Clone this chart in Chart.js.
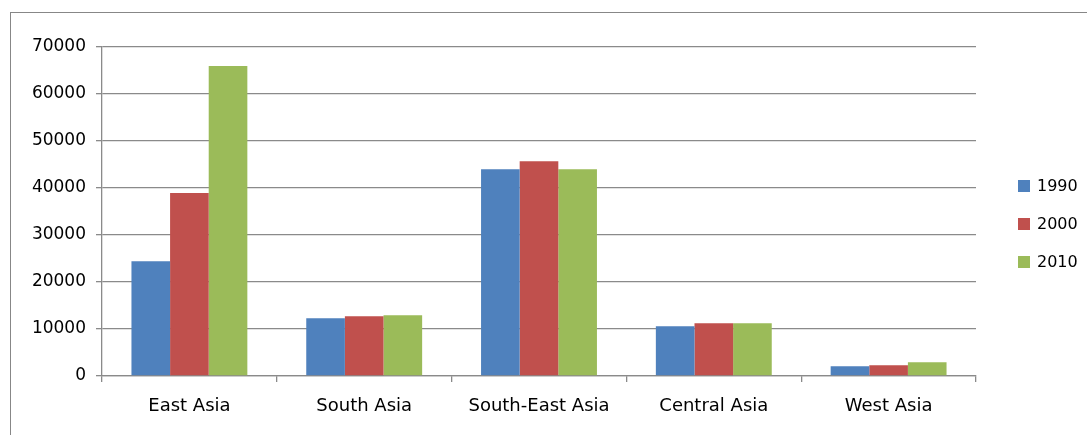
<!DOCTYPE html>
<html>
<head>
<meta charset="utf-8">
<script src="https://cdn.jsdelivr.net/npm/chart.js@4/dist/chart.umd.min.js"></script>
<style>
  html, body { margin: 0; padding: 0; background: #fff; overflow: hidden; }
  #wrap { position: relative; width: 1087px; height: 435px; }
  #frame {
    position: absolute; left: 10px; top: 12px; width: 1090px; height: 440px;
    border: 1px solid #878787; box-sizing: border-box;
  }
  #regions { position: absolute; left: 0; top: 0; }
</style>
</head>
<body>
<div id="wrap">
  <div id="frame"></div>
  <canvas id="regions" width="1087" height="435"></canvas>
</div>
<script>
"use strict";

// Regions and values per census year
var regions = ["East Asia", "South Asia", "South-East Asia", "Central Asia", "West Asia"];
var years = ["1990", "2000", "2010"];
var values1990 = [24400, 12300, 44000, 10600, 2100];
var values2000 = [38950, 12700, 45700, 11200, 2300];
var values2010 = [65950, 12950, 44000, 11200, 2950];
var yTicks = [0, 10000, 20000, 30000, 40000, 50000, 60000, 70000];

var seriesColors = ["#4F81BD", "#C0504D", "#9BBB59"];
var axisGray = "#8a8a8a";

Chart.defaults.font.family = "'DejaVu Sans', sans-serif";
Chart.defaults.color = "#000";

// ------------------------------------------------------- //
// Legend on the right, one square per year
// ------------------------------------------------------ //
var sideLegend = {
    id: "sideLegend",
    afterDraw: function (chart) {
        var ctx = chart.ctx;
        ctx.save();
        ctx.font = "16px 'DejaVu Sans'";
        ctx.textBaseline = "middle";
        ctx.textAlign = "left";
        chart.data.datasets.forEach(function (ds, i) {
            var y = 186 + i * 38;
            ctx.fillStyle = ds.backgroundColor;
            ctx.fillRect(1018, y - 6, 12, 12);
            ctx.fillStyle = "#000";
            ctx.fillText(ds.label, 1037, y + 1);
        });
        ctx.restore();
    }
};

var datasets = [values1990, values2000, values2010].map(function (vals, i) {
    return {
        label: years[i],
        data: vals,
        backgroundColor: seriesColors[i],
        borderWidth: 0,
        categoryPercentage: 0.663,
        barPercentage: 1.0
    };
});

var CHART = document.getElementById("regions");
var myBarChart = new Chart(CHART, {
    type: "bar",
    data: {
        labels: regions,
        datasets: datasets
    },
    options: {
        responsive: false,
        animation: false,
        layout: {
            padding: { left: 0, top: 47, right: 111, bottom: 0 }
        },
        plugins: {
            legend: { display: false },
            tooltip: { enabled: false }
        },
        scales: {
            x: {
                offset: true,
                grid: {
                    offset: true,
                    drawOnChartArea: false,
                    drawTicks: true,
                    tickLength: 6,
                    color: axisGray,
                    lineWidth: 1.3
                },
                border: { display: true, color: axisGray, width: 1.3 },
                ticks: {
                    padding: 14,
                    font: { size: 18 },
                    maxRotation: 0
                },
                afterFit: function (scale) { scale.height = 59; }
            },
            y: {
                min: 0,
                max: 70000,
                afterBuildTicks: function (scale) {
                    scale.ticks = yTicks.map(function (v) { return { value: v }; });
                },
                grid: {
                    color: axisGray,
                    lineWidth: 1.3,
                    drawTicks: true,
                    tickLength: 6
                },
                border: { display: true, color: axisGray, width: 1.3 },
                ticks: {
                    padding: 10,
                    font: { size: 17 },
                    callback: function (v) { return String(v); }
                },
                afterFit: function (scale) { scale.width = 102; }
            }
        }
    },
    plugins: [sideLegend]
});
</script>
</body>
</html>
